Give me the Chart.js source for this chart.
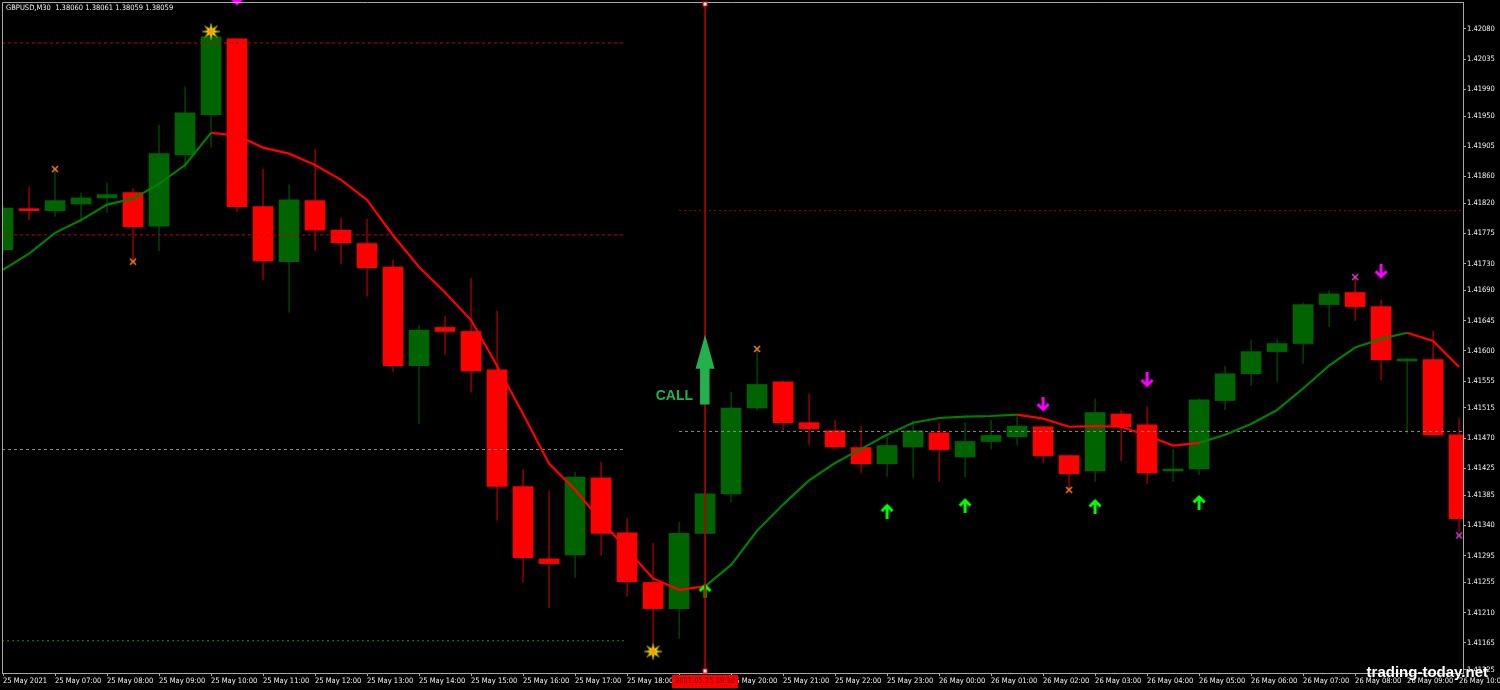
<!DOCTYPE html>
<html><head><meta charset="utf-8">
<script src="https://cdn.jsdelivr.net/npm/chart.js@4.4.1/dist/chart.umd.min.js"></script>
<style>html,body{margin:0;padding:0;background:#000;overflow:hidden}#wrap{width:1500px;height:690px;position:relative}</style>
</head><body><div id="wrap"><canvas id="c" width="1500" height="690"></canvas></div>
<script>
// ---------------- DATA ----------------
const symbolTitle = 'GBPUSD,M30  1.38060 1.38061 1.38059 1.38059';
const timeLabels = ['25 May 2021','25 May 07:00','25 May 08:00','25 May 09:00','25 May 10:00','25 May 11:00','25 May 12:00','25 May 13:00','25 May 14:00','25 May 15:00','25 May 16:00','25 May 17:00','25 May 18:00','25 May 19:00','25 May 20:00','25 May 21:00','25 May 22:00','25 May 23:00','26 May 00:00','26 May 01:00','26 May 02:00','26 May 03:00','26 May 04:00','26 May 05:00','26 May 06:00','26 May 07:00','26 May 08:00','26 May 09:00','26 May 10:00'];
const timeLabelBars = [0,2,4,6,8,10,12,14,16,18,20,22,24,26,28,30,32,34,36,38,40,42,44,46,48,50,52,54,56];
const priceTicks = [1.42080,1.42035,1.41990,1.41950,1.41905,1.41860,1.41820,1.41775,1.41730,1.41690,1.41645,1.41600,1.41555,1.41515,1.41470,1.41425,1.41385,1.41340,1.41295,1.41255,1.41210,1.41165,1.41125];
const priceMin = 1.41120, priceMax = 1.42120;
const barMin = -0.04, barMax = 56.15;

const opens  = [1.41751,1.41812,1.41809,1.41819,1.41828,1.41836,1.41786,1.41892,1.41952,1.42065,1.41815,1.41733,1.41824,1.41780,1.41760,1.41725,1.41578,1.41635,1.41629,1.41572,1.41398,1.41290,1.41296,1.41411,1.41329,1.41255,1.41216,1.41328,1.41387,1.41515,1.41554,1.41493,1.41481,1.41456,1.41432,1.41457,1.41478,1.41442,1.41465,1.41472,1.41487,1.41444,1.41421,1.41506,1.41490,1.41421,1.41424,1.41526,1.41566,1.41599,1.41611,1.41669,1.41687,1.41666,1.41585,1.41587,1.41475];
const highs  = [1.41816,1.41845,1.41870,1.41836,1.41851,1.41842,1.41937,1.41994,1.42073,1.42065,1.41871,1.41848,1.41901,1.41798,1.41797,1.41736,1.41639,1.41652,1.41709,1.41660,1.41424,1.41392,1.41420,1.41435,1.41351,1.41314,1.41345,1.41389,1.41539,1.41603,1.41556,1.41536,1.41497,1.41488,1.41472,1.41496,1.41493,1.41494,1.41497,1.41503,1.41488,1.41445,1.41529,1.41512,1.41517,1.41454,1.41529,1.41578,1.41617,1.41618,1.41672,1.41690,1.41710,1.41676,1.41590,1.41630,1.41500];
const lows   = [1.41745,1.41795,1.41800,1.41792,1.41806,1.41733,1.41749,1.41871,1.41903,1.41807,1.41706,1.41657,1.41749,1.41730,1.41681,1.41569,1.41491,1.41594,1.41538,1.41347,1.41255,1.41217,1.41262,1.41295,1.41234,1.41162,1.41171,1.41328,1.41374,1.41511,1.41482,1.41460,1.41453,1.41418,1.41412,1.41411,1.41405,1.41412,1.41453,1.41459,1.41433,1.41393,1.41405,1.41436,1.41402,1.41405,1.41415,1.41512,1.41548,1.41554,1.41581,1.41636,1.41645,1.41556,1.41477,1.41474,1.41331];
const closes = [1.41813,1.41809,1.41824,1.41828,1.41833,1.41785,1.41894,1.41955,1.42068,1.41815,1.41734,1.41825,1.41780,1.41761,1.41724,1.41578,1.41631,1.41629,1.41570,1.41398,1.41292,1.41283,1.41412,1.41328,1.41256,1.41216,1.41328,1.41387,1.41515,1.41550,1.41493,1.41484,1.41457,1.41432,1.41459,1.41481,1.41453,1.41465,1.41474,1.41488,1.41444,1.41417,1.41508,1.41487,1.41418,1.41424,1.41527,1.41566,1.41599,1.41611,1.41669,1.41685,1.41666,1.41587,1.41587,1.41475,1.41350];

const maValues = [1.41721,1.41745,1.41776,1.41795,1.41818,1.41827,1.41849,1.41877,1.41925,1.41921,1.41903,1.41894,1.41877,1.41855,1.41825,1.41772,1.41725,1.41687,1.41646,1.41578,1.41506,1.41432,1.41393,1.41347,1.41304,1.41261,1.41244,1.41249,1.41281,1.41332,1.41371,1.41407,1.41433,1.41454,1.41475,1.41493,1.41500,1.41502,1.41503,1.41505,1.41499,1.41487,1.41488,1.41487,1.41474,1.41459,1.41463,1.41475,1.41491,1.41512,1.41544,1.41578,1.41605,1.41618,1.41627,1.41615,1.41576];
const maUpRanges   = [[0,8],[27,39],[46,54]];
const maDownRanges = [[8,27],[39,46],[54,56]];

const levelPrices = [1.42059,1.41773,1.41453,1.41168,1.41809,1.41480];
const levelFrom   = [-0.04,-0.04,-0.04,-0.04,26,26];
const levelTo     = [23.92,23.92,23.92,23.92,56.15,56.15];
const levelKinds  = ['red','red','gray','green','reddot','gray'];

const upArrowBars = [27,34,37,42,46];
const upArrowPrices = [1.41243,1.41362,1.41370,1.41369,1.41375];
const downArrowBars = [9,40,44,53];
const downArrowPrices = [1.42125,1.41520,1.41556,1.41718];
const orangeCrossBars = [2,5,29,41];
const orangeCrossPrices = [1.41871,1.41733,1.41603,1.41393];
const magentaCrossBars = [52,56];
const magentaCrossPrices = [1.41710,1.41325];
const starBars = [8,25];
const starPrices = [1.42076,1.41152];

const callBar = 27, callFrom = 1.41520, callTo = 1.41624, callText = 'CALL';
const cursorBar = 27, cursorText = '2021.05.25 19:30';
const watermark = 'trading-today.net';

// ---------------- STYLES ----------------
const FONT = "'DejaVu Sans Condensed', 'Liberation Sans', Arial, sans-serif";
const BFONT = "'Liberation Sans', Arial, sans-serif";
const TXT = '#f0f0f0', AXIS = '#a8a8a8';
const BULL = '#006400', BEAR = '#ff0000', BEAR_WICK = '#e00000';
const levelStyle = {
  red:   {color:'#c00000', dash:[3,3]},
  reddot:{color:'#b00000', dash:[2,3]},
  gray:  {color:'#8a8a8a', dash:[3,3]},
  green: {color:'#00a000', dash:[2,3]}
};

function mk(w,h,fn){const c=document.createElement('canvas');c.width=w;c.height=h;const g=c.getContext('2d');fn(g);return c;}
const upImg = mk(14,16,g=>{g.strokeStyle='#00ff00';g.lineWidth=3;g.lineJoin='miter';g.beginPath();g.moveTo(7,16);g.lineTo(7,3);g.moveTo(1.5,8.5);g.lineTo(7,3);g.lineTo(12.5,8.5);g.stroke();});
const downImg = mk(14,16,g=>{g.strokeStyle='#ff00ff';g.lineWidth=3;g.lineJoin='miter';g.beginPath();g.moveTo(7,0);g.lineTo(7,13);g.moveTo(1.5,7.5);g.lineTo(7,13);g.lineTo(12.5,7.5);g.stroke();});
const crossImg = col => mk(8,8,g=>{g.strokeStyle=col;g.lineWidth=1.6;g.beginPath();g.moveTo(1,1);g.lineTo(7,7);g.moveTo(7,1);g.lineTo(1,7);g.stroke();});
const starImg = mk(22,20,g=>{g.translate(11,10);g.beginPath();for(let k=0;k<16;k++){const r=k%2?3.4:9;const a=k*Math.PI/8-Math.PI/2;g.lineTo(r*Math.cos(a),r*Math.sin(a)*0.9);}g.closePath();g.fillStyle='#ffff00';g.fill();g.strokeStyle='#9a8a00';g.lineWidth=0.8;g.stroke();g.beginPath();g.arc(0,0,3,0,Math.PI*2);g.fillStyle='#ff9a00';g.fill();});

// ---------------- BUILD ----------------
const idx = opens.map((_,i)=>i);
const bull = i => closes[i] >= opens[i];
const inRanges = (r,i) => r.some(([a,b]) => i>=a && i<=b);
const pts = (bars, prices) => bars.map((b,k)=>({x:b, y:prices[k]}));

const datasets = [];
datasets.push({type:'bar', data: idx.map(i=>({x:i,y:[lows[i],highs[i]]})), backgroundColor: idx.map(i=>bull(i)?BULL:BEAR_WICK), barThickness:1, grouped:false, inflateAmount:0, borderWidth:0, order:11});
datasets.push({type:'bar', data: idx.map(i=>({x:i,y:[opens[i],closes[i]]})), backgroundColor: idx.map(i=>bull(i)?BULL:BEAR), barThickness:20, grouped:false, minBarLength:2, borderWidth:0, order:10});
levelPrices.forEach((p,k)=>{
  const st = levelStyle[levelKinds[k]];
  datasets.push({type:'line', data:[{x:levelFrom[k],y:p},{x:levelTo[k],y:p}], borderColor:st.color, borderDash:st.dash, borderWidth:1, pointRadius:0, order:8});
});
datasets.push({type:'line', data: idx.map(i=>({x:i,y: inRanges(maUpRanges,i)?maValues[i]:null})), borderColor:'#007f00', borderWidth:2.2, pointRadius:0, spanGaps:false, tension:0, order:5});
datasets.push({type:'line', data: idx.map(i=>({x:i,y: inRanges(maDownRanges,i)?maValues[i]:null})), borderColor:'#ff0000', borderWidth:2.2, pointRadius:0, spanGaps:false, tension:0, order:5});
const mkMarkers = (data,img) => ({type:'line', showLine:false, data, pointStyle:img, pointRadius:8, pointBorderWidth:0, clip:{left:0,top:false,right:0,bottom:0}, order:2});
datasets.push(mkMarkers(pts(upArrowBars,upArrowPrices), upImg));
datasets.push(mkMarkers(pts(downArrowBars,downArrowPrices), downImg));
datasets.push(mkMarkers(pts(orangeCrossBars,orangeCrossPrices), crossImg('#f07a20')));
datasets.push(mkMarkers(pts(magentaCrossBars,magentaCrossPrices), crossImg('#d040d0')));
datasets.push(mkMarkers(pts(starBars,starPrices), starImg));
datasets.push({type:'line', data:[{x:cursorBar,y:priceMax},{x:cursorBar,y:priceMin}], borderColor:'#b80000', borderWidth:1.6, pointRadius:0, order:1});

const overlay = {
  id:'overlay',
  beforeDraw(ch){const c=ch.ctx;c.save();c.fillStyle='#000';c.fillRect(0,0,ch.width,ch.height);c.restore();},
  afterDatasetsDraw(ch){
    const c=ch.ctx, xs=ch.scales.x, ys=ch.scales.y;
    const x=xs.getPixelForValue(callBar), yt=ys.getPixelForValue(callTo), yb=ys.getPixelForValue(callFrom);
    c.save();
    c.fillStyle='#22b14c';
    c.beginPath();
    c.moveTo(x,yt); c.lineTo(x+9.5,yt+34); c.lineTo(x+4.5,yt+34); c.lineTo(x+4.5,yb); c.lineTo(x-5,yb); c.lineTo(x-5,yt+34); c.lineTo(x-9.5,yt+34); c.closePath(); c.fill();
    c.font='bold 14px '+BFONT; c.textAlign='right'; c.textBaseline='middle';
    c.fillText(callText, x-12, yb-8);
    c.restore();
  },
  afterDraw(ch){
    const c=ch.ctx, a=ch.chartArea, xs=ch.scales.x;
    c.save();
    c.strokeStyle=AXIS; c.lineWidth=1;
    c.beginPath(); c.moveTo(a.left+0.5,a.bottom); c.lineTo(a.left+0.5,a.top+0.5); c.lineTo(a.right,a.top+0.5); c.stroke();
    c.font='7.5px '+FONT; c.fillStyle=TXT; c.textAlign='left'; c.textBaseline='middle';
    c.fillText(symbolTitle, 6, 8);
    const cx = xs.getPixelForValue(cursorBar);
    c.fillStyle='#ff0000'; c.fillRect(cx-33, 675, 66, 13);
    c.fillStyle='#5a0000'; c.textAlign='center'; c.fillText(cursorText, cx, 681.5);
    c.fillStyle='#fff'; c.strokeStyle='#ff0000';
    c.fillRect(cx-2,a.top,4,4); c.strokeRect(cx-2,a.top,4,4);
    c.fillRect(cx-2,a.bottom-4,4,4); c.strokeRect(cx-2,a.bottom-4,4,4);
    c.font='bold 15px '+BFONT; c.fillStyle='#ffffff'; c.textAlign='right'; c.textBaseline='alphabetic';
    c.fillText(watermark, 1488, 677);
    c.restore();
  }
};

new Chart(document.getElementById('c'), {
  type:'bar',
  data:{datasets},
  options:{
    responsive:false, animation:false, devicePixelRatio:1, events:[],
    layout:{autoPadding:false, padding:{left:2,top:2,right:0,bottom:0}},
    plugins:{legend:{display:false}, tooltip:{enabled:false}},
    scales:{
      x:{type:'linear', min:barMin, max:barMax, offset:false,
        grid:{display:true, drawOnChartArea:false, drawTicks:true, tickLength:3, color:AXIS, offset:false},
        border:{display:true, color:AXIS},
        afterBuildTicks:s=>{s.ticks=timeLabelBars.map(v=>({value:v}));},
        afterFit:s=>{s.height=17; s.paddingLeft=0; s.paddingRight=0;},
        ticks:{autoSkip:false, maxRotation:0, minRotation:0, align:'start', padding:1, color:TXT, font:{family:FONT,size:7.5}, callback:(v,i)=>timeLabels[i]}
      },
      y:{type:'linear', position:'right', min:priceMin, max:priceMax,
        grid:{display:true, drawOnChartArea:false, drawTicks:true, tickLength:3, color:AXIS},
        border:{display:true, color:AXIS},
        afterBuildTicks:s=>{s.ticks=priceTicks.map(v=>({value:v}));},
        afterFit:s=>{s.width=37; s.paddingTop=0; s.paddingBottom=0;},
        ticks:{autoSkip:false, padding:1, color:TXT, font:{family:FONT,size:7.5}, callback:v=>v.toFixed(5)}
      }
    }
  },
  plugins:[overlay]
});
</script></body></html>
